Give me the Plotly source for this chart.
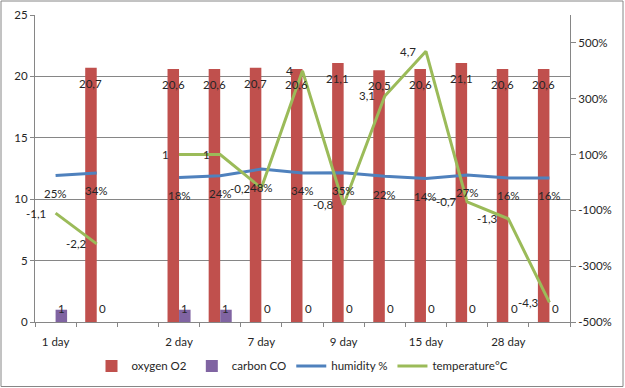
import plotly.graph_objects as go

categories = ["1 day", "", "", "2 day", "", "7 day", "", "9 day", "", "15 day", "", "28 day", ""]
oxygen = [None, 20.7, None, 20.6, 20.6, 20.7, 20.6, 21.1, 20.5, 20.6, 21.1, 20.6, 20.6]
carbon = [1, 0, None, 1, 1, 0, 0, 0, 0, 0, 0, 0, 0]
humidity = [0.25, 0.34, None, 0.18, 0.24, 0.48, 0.34, 0.35, 0.22, 0.14, 0.27, 0.16, 0.16]
temperature = [-1.1, -2.2, None, 1, 1, -0.2, 4, -0.8, 3.1, 4.7, -0.7, -1.3, -4.3]
right_ticks = [-5, -3, -1, 1, 3, 5]

C_OX = "#C0504D"
C_CO = "#8064A2"
C_HU = "#4F81BD"
C_TE = "#9BBB59"
GRID = "#868686"
TXT = "#262626"
FONT = "Lato"

x = list(range(len(categories)))
BW = 0.28

def fmt(v):
    s = f"{v:g}"
    return s.replace(".", ",")

fig = go.Figure()
fig.add_trace(go.Bar(x=x, y=oxygen, name="oxygen O2", marker_color=C_OX,
                     width=BW, offset=-BW, marker_line_width=0))
fig.add_trace(go.Bar(x=x, y=carbon, name="carbon CO", marker_color=C_CO,
                     width=BW, offset=0, marker_line_width=0))
fig.add_trace(go.Scatter(x=x, y=humidity, name="humidity %", mode="lines",
                         line=dict(color=C_HU, width=3), yaxis="y2"))
fig.add_trace(go.Scatter(x=x, y=temperature, name="temperature°C", mode="lines",
                         line=dict(color=C_TE, width=3), yaxis="y2"))

ann = []
for i in x:
    if oxygen[i] is not None:
        ann.append(dict(x=i - BW / 2, y=oxygen[i], xref="x", yref="y", text=fmt(oxygen[i]),
                        showarrow=False, yanchor="top", yshift=-7))
    if carbon[i] is not None:
        ann.append(dict(x=i + BW / 2, y=0, xref="x", yref="y", text=fmt(carbon[i]),
                        showarrow=False, yanchor="middle", yshift=14))
    if humidity[i] is not None:
        ann.append(dict(x=i, y=humidity[i], xref="x", yref="y2", text=f"{round(humidity[i]*100)}%",
                        showarrow=False, yanchor="middle", yshift=-18))
    if temperature[i] is not None:
        ann.append(dict(x=i, y=temperature[i], xref="x", yref="y2", text=fmt(temperature[i]),
                        showarrow=False, xanchor="right", yanchor="middle", xshift=-8))
for a in ann:
    a["font"] = dict(family=FONT, size=11.5, color=TXT)

tickvals = [i for i, c in enumerate(categories) if c]
ticktext = [c for c in categories if c]

fig.update_layout(
    width=625, height=388,
    margin=dict(l=35, r=55, t=15, b=66, autoexpand=False),
    paper_bgcolor="white", plot_bgcolor="white",
    font=dict(family=FONT, size=11.5, color=TXT),
    barmode="overlay",
    showlegend=True,
    hovermode=False,
    legend=dict(orientation="h", x=0.5, xanchor="center", y=-0.143, yanchor="middle",
                font=dict(family=FONT, size=11.5, color=TXT), itemwidth=30),
    xaxis=dict(range=[-0.5, len(categories) - 0.5], tickvals=tickvals, ticktext=ticktext,
               showgrid=False, zeroline=False, showline=True, linecolor=GRID, linewidth=1,
               ticks="outside", ticklen=9, tickcolor="rgba(0,0,0,0)", automargin=False,
               minor=dict(tickvals=[i - 0.5 for i in range(len(categories) + 1)],
                          ticks="outside", ticklen=4, tickcolor=GRID, showgrid=False)),
    yaxis=dict(range=[0, 25], dtick=5, tick0=0, showgrid=True, gridcolor=GRID, gridwidth=1,
               zeroline=False, showline=True, linecolor=GRID, linewidth=1, automargin=False,
               ticks="outside", ticklen=4, tickcolor=GRID),
    yaxis2=dict(range=[-5, 6], overlaying="y", side="right", automargin=False,
                tickvals=right_ticks, ticktext=[f"{int(v*100)}%" for v in right_ticks],
                showgrid=False, zeroline=False, showline=True, linecolor=GRID, linewidth=1,
                ticks="outside", ticklen=5, tickcolor=GRID),
    annotations=ann,
    shapes=[dict(type="rect", xref="paper", yref="paper",
                 x0=(1 - 35) / 535, x1=(623 - 35) / 535,
                 y0=(322 - 386.5) / 307, y1=(322 - 1) / 307,
                 line=dict(color=GRID, width=1), fillcolor="rgba(0,0,0,0)", layer="below")],
)

fig.write_html("out.html", config={"displayModeBar": False},
               post_script="document.body.style.margin='0px';")
